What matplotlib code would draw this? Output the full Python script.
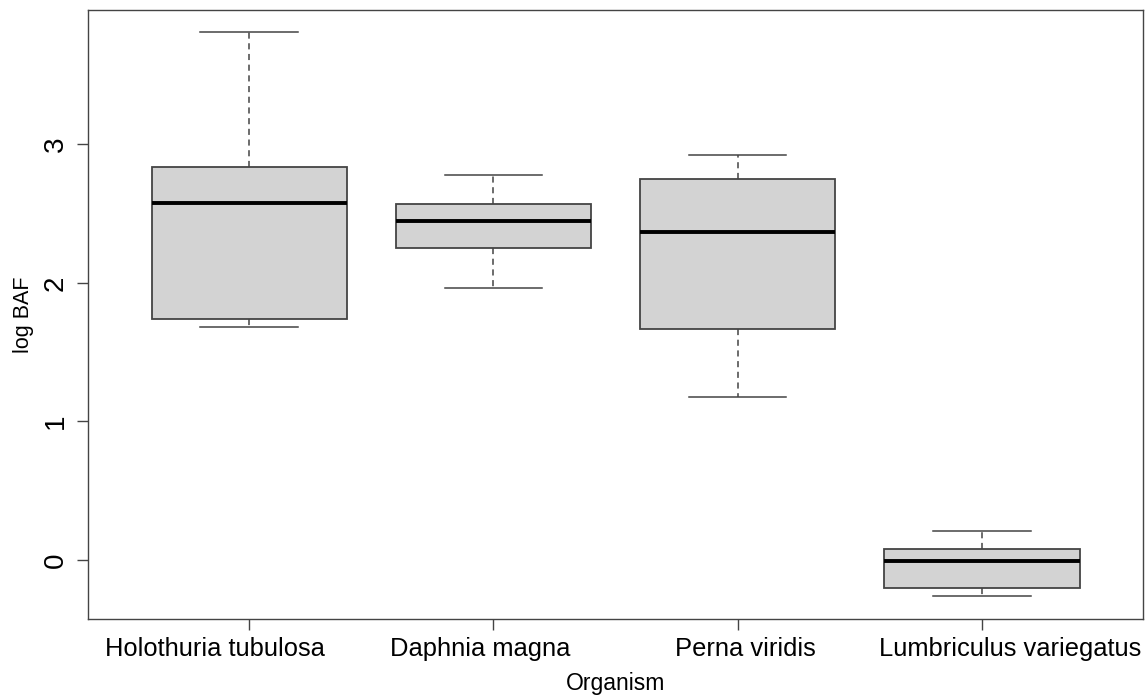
import matplotlib.pyplot as plt

plt.rcParams['font.family'] = ['Liberation Sans', 'DejaVu Sans']

organisms = ['Holothuria tubulosa', 'Daphnia magna', 'Perna viridis',
             'Lumbriculus variegatus']
whislo = [1.68, 1.96, 1.18, -0.26]
q1 = [1.74, 2.25, 1.67, -0.20]
med = [2.58, 2.45, 2.37, -0.01]
q3 = [2.84, 2.57, 2.75, 0.08]
whishi = [3.81, 2.78, 2.92, 0.21]
# labels sit a bit off the ticks in the original
label_pos = [0.86, 1.945, 3.033, 4.114]

stats = []
for i in range(len(organisms)):
    stats.append({'label': organisms[i], 'whislo': whislo[i], 'q1': q1[i],
                  'med': med[i], 'q3': q3[i], 'whishi': whishi[i],
                  'fliers': []})

fig = plt.figure(figsize=(11.46, 6.96), dpi=100)
ax = fig.add_axes([0.0768, 0.1106, 0.9206, 0.875])

edge = '#444444'
ax.bxp(stats, positions=[1, 2, 3, 4], widths=0.8, patch_artist=True,
       showfliers=False,
       boxprops=dict(facecolor='#d3d3d3', edgecolor=edge, linewidth=1.3),
       medianprops=dict(color='black', linewidth=2.8, solid_capstyle='butt'),
       whiskerprops=dict(color=edge, linewidth=1.1, linestyle=(0, (4, 3))),
       capprops=dict(color=edge, linewidth=1.1), capwidths=0.4)

ax.set_xlim(0.5 - 0.16, 4.5 + 0.16)
ax.set_ylim(-0.426, 3.97)
ax.set_xticks([1, 2, 3, 4])
ax.set_xticklabels([])
ax.set_xticks(label_pos, minor=True)
ax.set_xticklabels(organisms, minor=True)
ax.set_yticks([0, 1, 2, 3])
for lab in ax.get_yticklabels():
    lab.set_rotation(90)
    lab.set_va('center')
ax.tick_params(axis='y', labelsize=20, length=8, width=1, color=edge, pad=6)
ax.tick_params(axis='x', which='major', length=8, width=1, color=edge)
ax.tick_params(axis='x', which='minor', labelsize=18.4, length=0, pad=13)
for s in ax.spines.values():
    s.set_color(edge)
    s.set_linewidth(1)

ax.set_ylabel('log BAF', fontsize=15.5, labelpad=6)
ax.set_xlabel('Organism', fontsize=16.5, labelpad=8)

fig.savefig('out.png', dpi=100)
